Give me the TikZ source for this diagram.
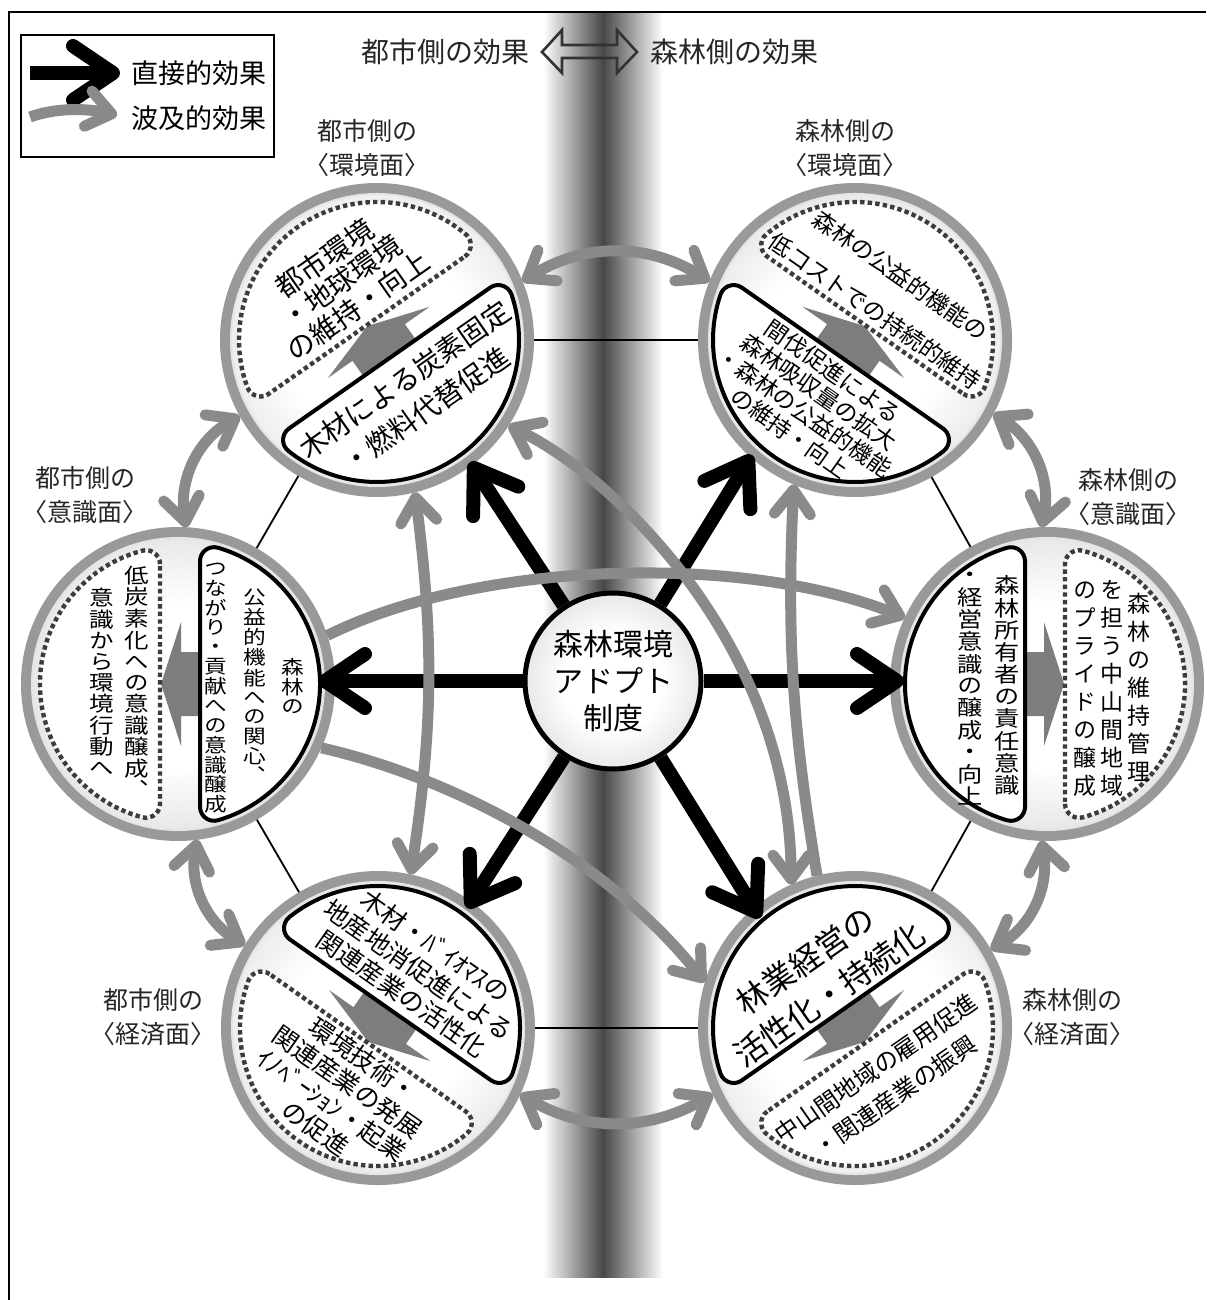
\documentclass[tikz,border=0pt]{standalone}
\usepackage{fontspec}
\setmainfont{Noto Sans CJK JP}
\newfontfamily\vfont[RawFeature=+vert, FakeStretch=1.18]{Noto Sans CJK JP}
\newfontfamily\vfontn[RawFeature=+vert]{Noto Sans CJK JP}
\usetikzlibrary{arrows.meta}
\definecolor{ringc}{RGB}{153,153,153}
\definecolor{conc}{RGB}{138,138,138}
\definecolor{arrc}{RGB}{125,125,125}
\definecolor{dotc}{RGB}{60,60,60}
\pgfdeclareradialshading{disc}{\pgfpoint{0bp}{0bp}}{color(0bp)=(white); color(14bp)=(white); color(50bp)=(black!30); color(60bp)=(black!30)}
\pgfdeclarelayer{back}
\pgfdeclarelayer{mid}
\pgfsetlayers{back,mid,main}
\makeatletter
\newcommand\tcol[2]{\vbox{\offinterlineskip\@tfor\tcol@c:=#2\do{\hbox to 1em{\hss\vrule height .8\dimexpr#1\relax depth .2\dimexpr#1\relax width 0pt\relax\tcol@c\hss}}}}
\makeatother
\newcommand\fs[2]{\fontsize{#1}{#2}\selectfont}
\tikzset{
  cnode/.style={circle, minimum size=157pt, inner sep=0pt, outer sep=0pt},
  solidsh/.style={draw=black, line width=2pt, fill=white},
  dotsh/.style={draw=dotc, line width=2.2pt, dash pattern=on 2.2pt off 1.6pt, fill=white},
  direct/.style={draw=black, line width=7pt, -{Straight Barb[length=20pt,width=27pt,round]}},
  rtip/.tip={Straight Barb[length=12pt,width=18pt,round]},
  ripple/.style={draw=conc, line width=5.5pt, -{rtip}},
  ripples/.style={draw=conc, line width=5.5pt, {rtip}-{rtip}},
  txt/.style={align=center, inner sep=0pt},
  vt/.style={inner sep=0pt},
  lbl/.style={align=center, inner sep=0pt, text=black!85, font=\fs{12.5pt}{17pt}},
  hub/.style={circle, draw=black, line width=2.5pt, minimum size=88pt, inner sep=0pt, shading=disc, shade, align=center, font=\fs{15pt}{18.5pt}},
}
\newcommand\effc[4]{%
 \begin{scope}[shift={(#1.center)}, rotate=#2]
  \fill[ringc] (0,0) circle[radius=157];
  \shade[shading=disc] (0,0) circle[radius=146];
  \draw[black!10, line width=1pt] (0,0) circle[radius=146];
  \fill[arrc] (-32,-30) -- (-32,-3) -- (-62,-3) -- (0,17) -- (62,-3) -- (32,-3) -- (32,-30) -- cycle;
  \path[solidsh] (-122.8,-22) arc[start angle=90, end angle=196.34, radius=14] arc[start angle=196.34, end angle=343.66, radius=142] arc[start angle=-16.34, end angle=90, radius=14] -- cycle;
  \path[dotsh] (119.8,18) arc[start angle=-90, end angle=14.95, radius=14] arc[start angle=14.95, end angle=165.05, radius=138] arc[start angle=165.05, end angle=270, radius=14] -- cycle;
  \coordinate (#1a) at (#3);
  \coordinate (#1b) at (#4);
 \end{scope}}
\begin{document}
\begin{tikzpicture}[x=0.5pt,y=0.5pt]
\useasboundingbox (0,0) rectangle (1206,-1300);
% circle nodes
\node[cnode] (TL) at (377,-340) {};
\node[cnode] (TR) at (855,-340) {};
\node[cnode] (L) at (178,-684) {};
\node[cnode] (R) at (1047,-684) {};
\node[cnode] (BL) at (378,-1028) {};
\node[cnode] (BR) at (855,-1028) {};
\coordinate (TLd) at (470,-462);
\coordinate (TRd) at (752,-455);
\coordinate (Ld) at (318,-681);
\coordinate (Rd) at (904,-681);
\coordinate (BLd) at (467,-908);
\coordinate (BRd) at (760,-918);

\begin{pgfonlayer}{back}
  \shade[left color=white, right color=white, middle color=black!72] (543,-12) rectangle (663,-1277);
  \draw[line width=0.9pt] (TL.center) -- (TR.center) -- (R.center) -- (BR.center) -- (BL.center) -- (L.center) -- cycle;
\end{pgfonlayer}

\begin{pgfonlayer}{mid}
  \effc{TL}{35}{0,-67}{4,68}
  \effc{TR}{-35}{0,-76}{0,57}
  \effc{L}{90}{0,0}{0,0}
  \effc{R}{-90}{0,0}{0,0}
  \effc{BL}{145}{0,-71}{-6,76}
  \effc{BR}{-145}{2,-63}{6,62}
\end{pgfonlayer}

% rotated texts
\node[txt, rotate=35, font=\fs{14pt}{18.5pt}] (tTLa) at (TLa) {木材による炭素固定\\・燃料代替促進};
\node[txt, rotate=35, font=\fs{14pt}{14.5pt}] (tTLb) at (TLb) {都市環境\\・地球環境\\の維持・向上};
\node[txt, rotate=-35, font=\fs{11.5pt}{12.6pt}] (tTRa) at (TRa) {間伐促進による\\森林吸収量の拡大\\・森林の公益的機能\\の維持・向上};
\node[txt, rotate=-35, font=\fs{11.5pt}{22pt}] (tTRb) at (TRb) {森林の公益的機能の\\低コストでの持続的維持};
\node[txt, rotate=-35, font=\fs{12.5pt}{14.5pt}] (tBLa) at (BLa) {木材・ﾊﾞｲｵﾏｽの\\地産地消促進による\\関連産業の活性化};
\node[txt, rotate=-35, font=\fs{12.5pt}{14pt}] (tBLb) at (BLb) {環境技術・\\関連産業の発展\\ｲﾉﾍﾞｰｼｮﾝ・起業\\の促進};
\node[txt, rotate=35, font=\fs{16pt}{21pt}] (tBRa) at (BRa) {林業経営の\\活性化・持続化};
\node[txt, rotate=35, font=\fs{12pt}{17pt}] (tBRb) at (BRb) {中山間地域の雇用促進\\・関連産業の振興};

% vertical texts
\node[vt, font=\vfont\fs{9.6pt}{9.6pt}] (La1) at (293,-688) {\tcol{9.7pt}{森林の}};
\node[vt, font=\vfont\fs{9.6pt}{9.6pt}] (La2) at (255,-688) {\tcol{9.7pt}{公益的機能への関心、}};
\node[vt, font=\vfont\fs{9.6pt}{9.6pt}] (La3) at (216,-688) {\tcol{9.7pt}{つながり・貢献への意識醸成}};
\node[vt, font=\vfont\fs{10.4pt}{10.4pt}] (Lb1) at (137,-684) {\tcol{10.5pt}{低炭素化への意識醸成、}};
\node[vt, font=\vfont\fs{10.4pt}{10.4pt}] (Lb2) at (102,-684) {\tcol{10.5pt}{意識から環境行動へ}};
\node[vt, font=\vfont\fs{10.7pt}{10.7pt}] (Ra1) at (1007,-687) {\tcol{10.8pt}{森林所有者の責任意識}};
\node[vt, font=\vfont\fs{10.7pt}{10.7pt}] (Ra2) at (970,-687) {\tcol{10.8pt}{・経営意識の醸成・向上}};
\node[vt, font=\vfontn\fs{11.5pt}{11.5pt}] (Rb1) at (1139,-688) {\tcol{14pt}{森林の維持管理}};
\node[vt, font=\vfontn\fs{11.5pt}{11.5pt}] (Rb2) at (1112,-688) {\tcol{14pt}{を担う中山間地域}};
\node[vt, font=\vfontn\fs{11.5pt}{11.5pt}] (Rb3) at (1085,-688) {\tcol{14pt}{のプライドの醸成}};

% hub and direct arrows
\node[hub] (H) at (613,-681) {森林環境\\アドプト\\制度};
\draw[direct] (H) -- (TLd);
\draw[direct] (H) -- (TRd);
\draw[direct] (H) -- (Ld);
\draw[direct] (H) -- (Rd);
\draw[direct] (H) -- (BLd);
\draw[direct] (H) -- (BRd);

% ripple arrows between neighbours
\draw[ripples] (TL.22) to[bend left=32] (TR.158);
\draw[ripples] (TL.209) to[bend right=35] (L.87);
\draw[ripples] (L.277) to[bend right=35] (BL.148);
\draw[ripples] (BL.-25) to[bend right=30] (BR.205);
\draw[ripples] (BR.30) to[bend right=35] (R.268);
\draw[ripples] (TR.-28) to[bend left=35] (R.92);
% ripple arrows across
\draw[ripple] (L.18) .. controls +(150,75) and +(-160,65) .. (R.155);
\draw[ripple] (L.-24) .. controls +(119,-27) and +(-105,132) .. (BR.163);
\draw[ripples] (TL.-33) .. controls +(111,-54) and +(-1,235) .. (BR.114);
\draw[ripples] (TL.-76) to[bend left=8] (BL.78);
\draw[ripple] (BR.104) to[bend left=6] (TR.-113);

% circle labels
\node[lbl] (lTL) at (367,-148) {都市側の\\〈環境面〉};
\node[lbl] (lTR) at (845,-148) {森林側の\\〈環境面〉};
\node[lbl] (lL) at (85,-495) {都市側の\\〈意識面〉};
\node[lbl] (lR) at (1128,-497) {森林側の\\〈意識面〉};
\node[lbl] (lBL) at (153,-1017) {都市側の\\〈経済面〉};
\node[lbl] (lBR) at (1072,-1017) {森林側の\\〈経済面〉};

% title
\node[txt, font=\fs{14pt}{14pt}, text=black!85] (t1) at (445,-52) {都市側の効果};
\node[txt, font=\fs{14pt}{14pt}, text=black!85] (t2) at (734,-52) {森林側の効果};
\draw[black!80, line width=1.3pt] (542,-52) -- (562,-30) -- (562,-45) -- (617,-45) -- (617,-30) -- (637,-52) -- (617,-73) -- (617,-58) -- (562,-58) -- (562,-73) -- cycle;

% legend
\draw[line width=1.1pt, fill=white] (21,-35) rectangle (274,-157);
\coordinate (lg1a) at (30,-73);
\coordinate (lg1b) at (120,-73);
\coordinate (lg2a) at (30,-117);
\coordinate (lg2b) at (117,-115);
\draw[direct] (lg1a) -- (lg1b);
\draw[ripple] (lg2a) .. controls (55,-108) and (85,-108) .. (lg2b);
\node[txt, font=\fs{13.5pt}{13.5pt}] (lgt1) at (199,-73) {直接的効果};
\node[txt, font=\fs{13.5pt}{13.5pt}] (lgt2) at (199,-118) {波及的効果};

% frame
\draw[line width=1.3pt] (9,-1300) -- (9,-12) -- (1206,-12);
\end{tikzpicture}
\end{document}
